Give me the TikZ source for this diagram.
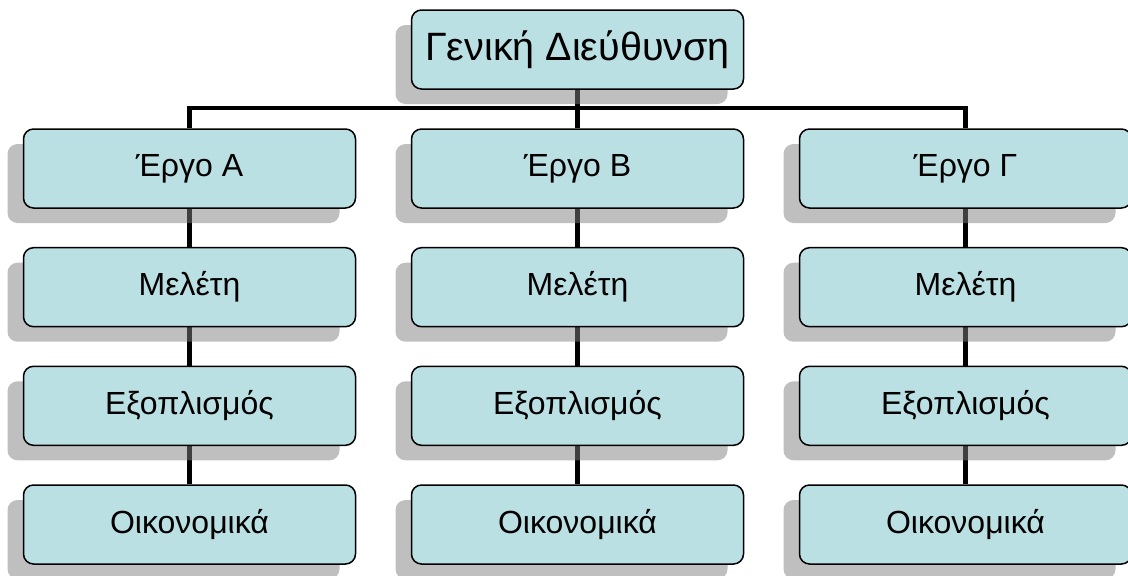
\documentclass[tikz,border=0pt]{standalone}
\usepackage{fontspec}
\setmainfont{Liberation Sans}
\usepackage{tikz}
\usetikzlibrary{shadows,backgrounds,positioning}

\definecolor{boxblue}{HTML}{BBE0E3}
\tikzset{
  unit/.style={draw=black,line width=1.5pt,fill=boxblue,rounded corners=10pt,
    minimum width=332pt,minimum height=79pt,inner sep=0pt,
    font=\fontsize{32}{38}\selectfont,
    drop shadow={shadow xshift=-16pt,shadow yshift=-15pt,fill=black!50,opacity=.5}},
  head/.style={unit,font=\fontsize{39.5}{46}\selectfont},
  link/.style={line width=4.5pt}
}

\begin{document}
\begin{tikzpicture}[x=1pt,y=1pt]
\useasboundingbox (0,0) rectangle (1128,-576);

\node[head] (top) at (577.5,-49.5) {Γενική Διεύθυνση};
\coordinate (bar) at (577.5,-108);

\node[unit] (a1) at (189.5,-168.5) {Έργο Α};
\node[unit] (b1) at (577.5,-168.5) {Έργο Β};
\node[unit] (c1) at (965.5,-168.5) {Έργο Γ};

\node[unit] (a2) at (189.5,-287.2) {Μελέτη};
\node[unit] (b2) at (577.5,-287.2) {Μελέτη};
\node[unit] (c2) at (965.5,-287.2) {Μελέτη};

\node[unit] (a3) at (189.5,-405.8) {Εξοπλισμός};
\node[unit] (b3) at (577.5,-405.8) {Εξοπλισμός};
\node[unit] (c3) at (965.5,-405.8) {Εξοπλισμός};

\node[unit] (a4) at (189.5,-524.5) {Οικονομικά};
\node[unit] (b4) at (577.5,-524.5) {Οικονομικά};
\node[unit] (c4) at (965.5,-524.5) {Οικονομικά};

\begin{scope}[on background layer]
 \draw[link] (top) -- (b1);
 \draw[link] (a1) |- (bar) -| (c1);
 \foreach \c in {a,b,c}
   \draw[link] (\c1) -- (\c2) -- (\c3) -- (\c4);
\end{scope}

\end{tikzpicture}
\end{document}
